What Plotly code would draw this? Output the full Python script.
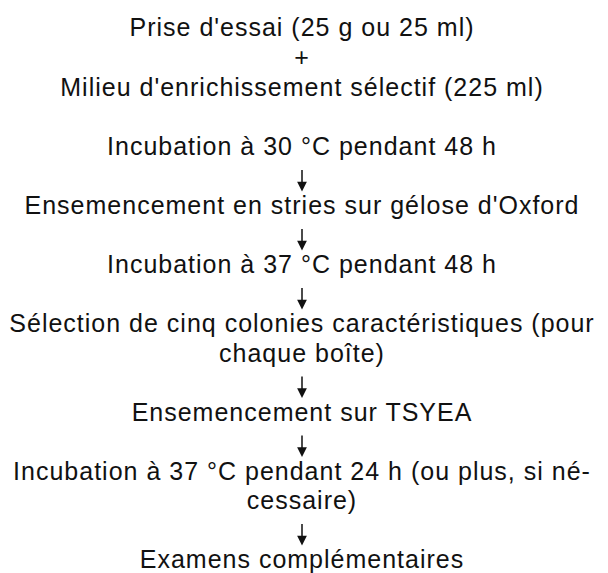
import plotly.graph_objects as go

# Flowchart lines, top to bottom ("↓" entries are drawn as arrows)
lines = [
    "Prise d'essai (25 g ou 25 ml)",
    "+",
    "Milieu d'enrichissement sélectif (225 ml)",
    "Incubation à 30 °C pendant 48 h",
    "↓",
    "Ensemencement en stries sur gélose d'Oxford",
    "↓",
    "Incubation à 37 °C pendant 48 h",
    "↓",
    "Sélection de cinq colonies caractéristiques (pour",
    "chaque boîte)",
    "↓",
    "Ensemencement sur TSYEA",
    "↓",
    "Incubation à 37 °C pendant 24 h (ou plus, si né-",
    "cessaire)",
    "↓",
    "Examens complémentaires",
]
# baseline of each text line / centre of each arrow (pixels from top)
levels = [36, 66, 96, 155, 180, 214, 239, 273, 298, 332, 361.5, 386.5,
          420.5, 445.5, 479.5, 509, 534, 568]

W, H = 608, 573
XC = 302
FS = 25
ARROW_LEN = 23

txt_x, txt_y, txt_s = [], [], []
annotations = []
for t, lv in zip(lines, levels):
    if t == "↓":
        annotations.append(dict(
            x=XC, y=lv + ARROW_LEN / 2, ax=XC, ay=lv - ARROW_LEN / 2,
            xref="x", yref="y", axref="x", ayref="y",
            text="", showarrow=True, arrowhead=2, arrowsize=1.3,
            arrowwidth=1.5, arrowcolor="#111", standoff=0,
        ))
    else:
        txt_x.append(XC)
        txt_y.append(lv - 0.25 * FS)  # plotly puts baseline 0.25em below point
        txt_s.append('<span style="letter-spacing:1px">' + t + '</span>')

fig = go.Figure(go.Scatter(
    x=txt_x, y=txt_y, text=txt_s, mode="text",
    textposition="middle center",
    textfont=dict(family="Liberation Sans, Arial, sans-serif",
                  size=FS, color="#111"),
    hoverinfo="skip", showlegend=False,
))
fig.update_layout(
    width=W, height=H,
    margin=dict(l=0, r=0, t=0, b=0),
    paper_bgcolor="white", plot_bgcolor="white",
    xaxis=dict(range=[0, W], visible=False, fixedrange=True),
    yaxis=dict(range=[H, 0], visible=False, fixedrange=True),
    annotations=annotations,
)
fig.write_html(
    "out.html",
    config={"displayModeBar": False},
    post_script="document.body.style.margin='0';",
)
